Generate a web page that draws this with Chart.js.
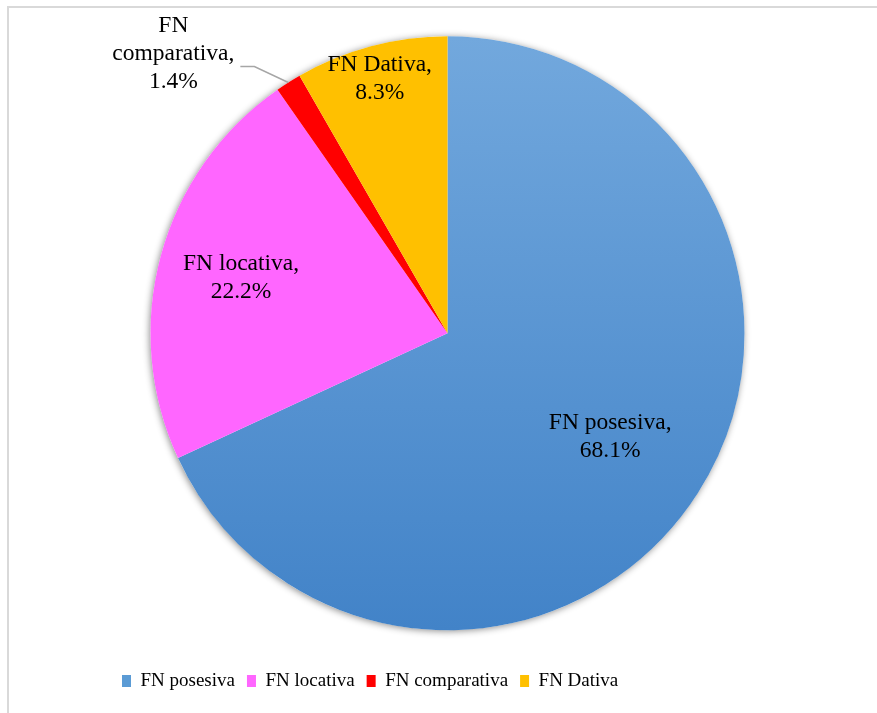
<!DOCTYPE html>
<html>
<head>
<meta charset="utf-8">
<script src="https://cdn.jsdelivr.net/npm/chart.js@4.4.0/dist/chart.umd.min.js"></script>
<style>
  html, body { margin: 0; padding: 0; background: #fff; }
  #wrap { position: relative; width: 877px; height: 713px; overflow: hidden; }
  #frame { position: absolute; left: 7px; top: 6px; width: 900px; height: 800px;
           border-left: 2px solid #d9d9d9; border-top: 2px solid #d9d9d9; pointer-events: none; }
  canvas { position: absolute; left: 0; top: 0; }
</style>
</head>
<body>
<div id="wrap">
  <canvas id="grafico" width="877" height="713"></canvas>
  <div id="frame"></div>
</div>
<script>
const categorias = ['FN posesiva', 'FN locativa', 'FN comparativa', 'FN Dativa'];
const porcentajes = [68.1, 22.2, 1.4, 8.3];
const colores = ['#5b9bd5', '#ff66ff', '#ff0000', '#ffc000'];

const RADIO = 297;
const FUENTE = 'Liberation Serif, Times New Roman, serif';

// sombra suave detrás del pastel
const sombra = {
  id: 'sombra',
  beforeDatasetsDraw(chart) {
    const arc = chart.getDatasetMeta(0).data[0];
    if (!arc) return;
    const ctx = chart.ctx;
    ctx.save();
    ctx.shadowColor = 'rgba(0,0,0,0.45)';
    ctx.shadowBlur = 7;
    ctx.shadowOffsetX = -1;
    ctx.shadowOffsetY = 1;
    ctx.fillStyle = '#ffffff';
    ctx.beginPath();
    ctx.arc(arc.x, arc.y, arc.outerRadius, 0, Math.PI * 2);
    ctx.fill();
    ctx.restore();
  }
};

// etiquetas de datos (nombre, porcentaje)
const etiquetas = {
  id: 'etiquetas',
  afterDatasetsDraw(chart, args, opts) {
    const ctx = chart.ctx;
    const meta = chart.getDatasetMeta(0);
    ctx.save();
    ctx.font = opts.size + 'px ' + FUENTE;
    ctx.fillStyle = '#000';
    ctx.textAlign = 'center';
    ctx.textBaseline = 'middle';
    meta.data.forEach((arc, i) => {
      const p = arc.getProps(['x', 'y', 'startAngle', 'endAngle', 'outerRadius']);
      const mid = (p.startAngle + p.endAngle) / 2;
      const nombre = chart.data.labels[i];
      const valor = chart.data.datasets[0].data[i].toFixed(1) + '%';
      const f = opts.radios[i];
      if (f) {
        const lines = [nombre + ',', valor];
        const cx = p.x + Math.cos(mid) * p.outerRadius * f;
        const cy = p.y + Math.sin(mid) * p.outerRadius * f;
        lines.forEach((t, k) => ctx.fillText(t, cx, cy + (k - (lines.length - 1) / 2) * opts.lineHeight));
      } else {
        // fuera del pastel con línea guía
        const x0 = p.x + Math.cos(mid) * p.outerRadius;
        const y0 = p.y + Math.sin(mid) * p.outerRadius;
        const x1 = x0 - 34;
        const y1 = y0 - 16;
        const x2 = x1 - 14;
        ctx.strokeStyle = '#a6a6a6';
        ctx.lineWidth = 1.5;
        ctx.beginPath();
        ctx.moveTo(x0, y0);
        ctx.lineTo(x1, y1);
        ctx.lineTo(x2, y1);
        ctx.stroke();
        const partes = nombre.split(' ');
        const lines = [partes[0], partes.slice(1).join(' ') + ',', valor];
        const w = Math.max(...lines.map(t => ctx.measureText(t).width));
        const cx = x2 - 6 - w / 2;
        const cy = y1 - 12.5;
        lines.forEach((t, k) => ctx.fillText(t, cx, cy + (k - 1) * opts.lineHeight));
      }
    });
    ctx.restore();
  }
};

function fondo(c) {
  if (c.dataIndex !== 0) return colores[c.dataIndex];
  const area = c.chart.chartArea;
  if (!area) return colores[0];
  const cy = (area.top + area.bottom) / 2;
  const g = c.chart.ctx.createLinearGradient(0, cy - RADIO, 0, cy + RADIO);
  g.addColorStop(0, '#72a8dd');
  g.addColorStop(1, '#4283c8');
  return g;
}

new Chart(document.getElementById('grafico').getContext('2d'), {
  type: 'pie',
  data: {
    labels: categorias,
    datasets: [{
      data: porcentajes,
      backgroundColor: fondo,
      borderWidth: 0,
      radius: RADIO
    }]
  },
  plugins: [sombra, etiquetas],
  options: {
    responsive: false,
    animation: false,
    layout: { padding: { left: 110, right: 92, top: 7, bottom: 12.5 } },
    plugins: {
      tooltip: { enabled: false },
      legend: {
        position: 'bottom',
        align: 'start',
        labels: {
          boxWidth: 9,
          boxHeight: 12,
          padding: 12,
          color: '#000',
          font: { family: FUENTE, size: 19 },
          generateLabels(chart) {
            return categorias.map((t, i) => ({
              text: t, fillStyle: colores[i], strokeStyle: colores[i], lineWidth: 0, index: i, hidden: false
            }));
          }
        }
      },
      etiquetas: { size: 23.5, lineHeight: 28, radios: [0.65, 0.72, null, 0.885] }
    }
  }
});
</script>
</body>
</html>
